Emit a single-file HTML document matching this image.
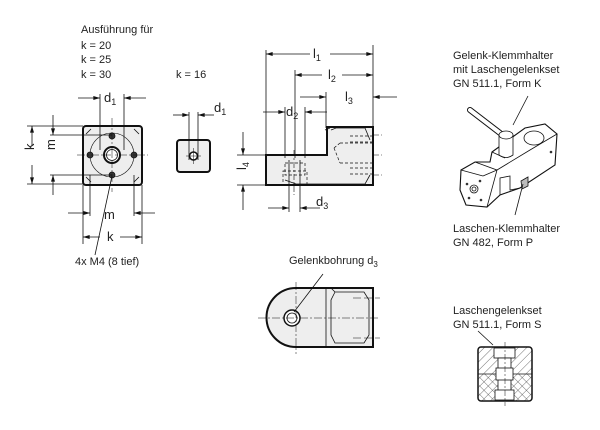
<!DOCTYPE html>
<html><head><meta charset="utf-8"><style>
body{margin:0;background:#fff;}
svg{display:block;font-family:"Liberation Sans",sans-serif;}
text{font-size:11px;fill:#222;}
</style></head><body>
<svg width="600" height="430" viewBox="0 0 600 430" xmlns="http://www.w3.org/2000/svg">
<defs>
<marker id="a" viewBox="0 0 10 6" refX="10" refY="3" markerWidth="9" markerHeight="5" orient="auto-start-reverse"><path d="M0,0L10,3L0,6z" fill="#111"/></marker>
<pattern id="h" width="6" height="6" patternUnits="userSpaceOnUse" patternTransform="rotate(45)"><line x1="0" y1="0" x2="0" y2="6" stroke="#333" stroke-width="0.7"/></pattern>
<pattern id="h2" width="6" height="6" patternUnits="userSpaceOnUse" patternTransform="rotate(-45)"><line x1="0" y1="0" x2="0" y2="6" stroke="#333" stroke-width="0.7"/></pattern>
</defs>
<g stroke="#111" fill="none" stroke-width="0.8">
<!-- left front view -->
<rect x="83" y="126" width="59" height="59" rx="3" fill="#eee" stroke-width="2"/>
<path d="M86,134 L91,129 M134,129 L139,134 M139,177 L134,182 M91,182 L86,177"/>
<circle cx="112" cy="155" r="22" stroke-width="0.6"/>
<circle cx="112" cy="155" r="8" stroke-width="2" fill="#fff"/>
<circle cx="112" cy="155" r="5.5"/>
<g fill="#333"><circle cx="112" cy="136" r="3"/><circle cx="90" cy="155" r="3"/><circle cx="134" cy="155" r="3"/><circle cx="112" cy="175" r="3"/></g>
<path d="M77,155H148 M112,118V192" stroke-dasharray="8,2,2,2" stroke-width="0.5"/>
<path d="M100,94V150 M124,94V150"/>
<line x1="78" y1="98" x2="100" y2="98" marker-end="url(#a)"/>
<line x1="146" y1="98" x2="124" y2="98" marker-end="url(#a)"/>
<path d="M27,126H83 M27,184H83 M50,135H112 M50,175H112"/>
<line x1="32" y1="146" x2="32" y2="126" marker-end="url(#a)"/>
<line x1="32" y1="165" x2="32" y2="184" marker-end="url(#a)"/>
<line x1="53" y1="115" x2="53" y2="135" marker-end="url(#a)"/>
<line x1="53" y1="195" x2="53" y2="175" marker-end="url(#a)"/>
<path d="M83,185V244 M142,185V244 M90,175V216 M134,175V216"/>
<line x1="68" y1="213" x2="90" y2="213" marker-end="url(#a)"/>
<line x1="155" y1="213" x2="134" y2="213" marker-end="url(#a)"/>
<line x1="100" y1="237" x2="83" y2="237" marker-end="url(#a)"/>
<line x1="120" y1="237" x2="142" y2="237" marker-end="url(#a)"/>
<path d="M112,176L95,255"/>
<!-- small view -->
<rect x="177" y="140" width="33" height="32" rx="3" fill="#eee" stroke-width="2"/>
<circle cx="193.5" cy="156" r="4" stroke-width="1.5" fill="#fff"/>
<path d="M189,112V160 M198,112V160"/>
<line x1="173" y1="115" x2="189" y2="115" marker-end="url(#a)"/>
<line x1="214" y1="115" x2="198" y2="115" marker-end="url(#a)"/>
<path d="M186,156H201 M193.5,148V164" stroke-width="0.5"/>
<!-- side view -->
<path d="M266,155H327V127H373V185H266Z" fill="#eee" stroke-width="2"/>
<path d="M330,128L325,130 M331,130L336,128H365L370,140 M370,175L365,184H296L285,180" />
<path d="M266,50V155 M295,70V158 M373,45V127 M326,92V128 M285,107V158 M305,107V158"/>
<line x1="310" y1="54" x2="266" y2="54" marker-end="url(#a)"/>
<line x1="330" y1="54" x2="373" y2="54" marker-end="url(#a)"/>
<line x1="322" y1="75" x2="295" y2="75" marker-end="url(#a)"/>
<line x1="342" y1="75" x2="373" y2="75" marker-end="url(#a)"/>
<line x1="300" y1="97" x2="326" y2="97" marker-end="url(#a)"/>
<line x1="397" y1="97" x2="373" y2="97" marker-end="url(#a)"/>
<line x1="263" y1="112" x2="285" y2="112" marker-end="url(#a)"/>
<line x1="327" y1="112" x2="305" y2="112" marker-end="url(#a)"/>
<path d="M237,155H266 M237,185H266"/>
<line x1="243" y1="132" x2="243" y2="155" marker-end="url(#a)"/>
<line x1="243" y1="210" x2="243" y2="185" marker-end="url(#a)"/>
<path d="M289,160V212 M300,160V212"/>
<line x1="268" y1="208" x2="289" y2="208" marker-end="url(#a)"/>
<line x1="320" y1="208" x2="300" y2="208" marker-end="url(#a)"/>
<g stroke-dasharray="3,2" stroke-width="0.7">
<path d="M285,163H305V175H285Z M283,171H307V185H283Z"/>
<path d="M340,143H372 M334,148L340,143 M334,148L340,163 M340,163H372"/>
<path d="M350,136H372 M350,142H372 M350,168H372 M350,174H372"/>
</g>
<path d="M294,150V195 M373,135H382 M373,155H382 M373,175H382" stroke-dasharray="6,2,2,2" stroke-width="0.6"/>
<!-- bottom view -->
<path d="M296,288H373V347H296A29.5,29.5 0 0 1 296,288Z" fill="#eee" stroke-width="2"/>
<path d="M326,288V347 M331,288L335,292 M335,292L331,300V335L335,343H364L369,335V300L364,292H335" />
<circle cx="292" cy="318" r="8" stroke-width="1.5" fill="#fff"/>
<circle cx="292" cy="318" r="5"/>
<path d="M258,318H380 M296,282V354" stroke-dasharray="8,2,2,2" stroke-width="0.5"/>
<path d="M353,298H380 M353,338H380" stroke-dasharray="8,3" stroke-width="0.6"/>
<path d="M323,274L294,312"/>
<!-- form S -->
<rect x="478" y="347" width="54" height="54" rx="3" fill="url(#h)" stroke-width="1.5"/>
<rect x="479" y="374" width="52" height="26" fill="url(#h2)" stroke="none"/>
<path d="M478,374H532" />
<rect x="494" y="348" width="21" height="10" fill="#fff"/>
<rect x="498" y="358" width="13" height="33" fill="#fff"/>
<rect x="496" y="368" width="17" height="12" fill="#fff"/>
<rect x="495" y="390" width="19" height="10" fill="#fff"/>
<path d="M505,342V406" stroke-dasharray="6,2,2,2" stroke-width="0.5"/>
<path d="M478,331L493,345"/>
<!-- 3D part -->
<path d="M461,170L475,162L490,162L492,152L525,128L545,124L557,134L555,165L520,188L500,195L487,207L466,205L460,190Z" fill="#fff" stroke-width="1.1"/>
<path d="M475,162L497,170L530,150L557,134 M497,170L487,207 M461,170L483,176 M483,176L497,170 M500,195V178L510,176V190L520,188 M492,152L505,158"/>
<path d="M470,110L500,133" stroke-width="6" stroke-linecap="round"/>
<path d="M470,110L500,133" stroke-width="4" stroke="#fff" stroke-linecap="round"/>
<ellipse cx="534" cy="138" rx="10" ry="7" fill="#fff"/>
<path d="M499,135V155Q506,160 513,155V135" fill="#fff"/>
<ellipse cx="506" cy="135" rx="7" ry="4" fill="#fff"/>
<circle cx="474" cy="189" r="4"/><circle cx="474" cy="189" r="2"/>
<g fill="#333" stroke="none"><circle cx="467" cy="184" r="1.3"/><circle cx="480" cy="181" r="1.3"/><circle cx="469" cy="198" r="1.3"/><circle cx="481" cy="200" r="1.3"/><circle cx="551" cy="152" r="1.3"/></g>
<path d="M521,181L528,177V186L522,189Z" fill="#bbb"/>
<path d="M528,96L513,125 M523,184L515,215"/>
</g>
<text x="81" y="33">Ausführung für</text>
<text x="81" y="49">k = 20</text>
<text x="81" y="63">k = 25</text>
<text x="81" y="78">k = 30</text>
<text x="176" y="78">k = 16</text>
<text x="104" y="102" style="font-size:13px">d<tspan dy="3" style="font-size:9px">1</tspan></text>
<text x="214" y="112" style="font-size:13px">d<tspan dy="3" style="font-size:9px">1</tspan></text>
<text x="36" y="158" transform="rotate(-90 31 155)" style="font-size:13px">k</text>
<text x="57" y="158" transform="rotate(-90 52 155)" style="font-size:13px">m</text>
<text x="104" y="219" style="font-size:13px">m</text>
<text x="107" y="241" style="font-size:13px">k</text>
<text x="75" y="265">4x M4 (8 tief)</text>
<text x="313" y="58" style="font-size:13px">l<tspan dy="3" style="font-size:9px">1</tspan></text>
<text x="328" y="79" style="font-size:13px">l<tspan dy="3" style="font-size:9px">2</tspan></text>
<text x="345" y="101" style="font-size:13px">l<tspan dy="3" style="font-size:9px">3</tspan></text>
<text x="286" y="116" style="font-size:13px">d<tspan dy="3" style="font-size:9px">2</tspan></text>
<text x="240" y="176" transform="rotate(-90 240 170)" style="font-size:13px">l<tspan dy="3" style="font-size:9px">4</tspan></text>
<text x="316" y="206" style="font-size:13px">d<tspan dy="3" style="font-size:9px">3</tspan></text>
<text x="289" y="264">Gelenkbohrung d<tspan dy="3" style="font-size:8px">3</tspan></text>
<text x="453" y="59">Gelenk-Klemmhalter</text>
<text x="453" y="73">mit Laschengelenkset</text>
<text x="453" y="87">GN 511.1, Form K</text>
<text x="453" y="232">Laschen-Klemmhalter</text>
<text x="453" y="246">GN 482, Form P</text>
<text x="453" y="314">Laschengelenkset</text>
<text x="453" y="328">GN 511.1, Form S</text>
</svg>
</body></html>
